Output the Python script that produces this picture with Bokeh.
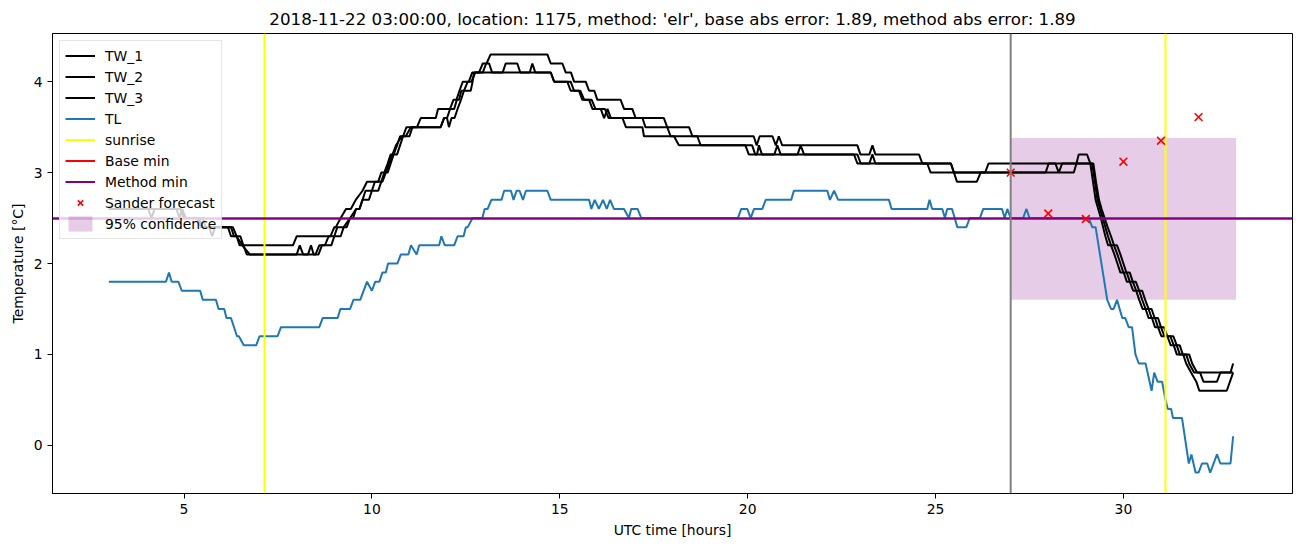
from bokeh.plotting import figure
from bokeh.models import Range1d, Legend, LegendItem, Span, FixedTicker
from bokeh.embed import file_html
from bokeh.resources import INLINE

TITLE = "2018-11-22 03:00:00, location: 1175, method: 'elr', base abs error: 1.89, method abs error: 1.89"

# TL (blue) breakpoints: hours, deg C
TL_t = [3.0, 4.52, 4.6, 4.67, 4.85, 4.94, 5.43, 5.5, 5.85, 5.92, 6.07, 6.13, 6.25, 6.41, 6.46, 6.59, 6.92, 7.01,
        7.49, 7.58, 8.6, 8.69, 9.09, 9.16, 9.42, 9.51, 9.69, 9.87, 10.0, 10.09, 10.2, 10.28, 10.37, 10.43, 10.68,
        10.77, 10.97, 11.04, 11.19, 11.26, 11.79, 11.85, 11.94, 12.19, 12.28, 12.44, 12.5, 12.55, 12.68, 12.94,
        13.0, 13.08, 13.18, 13.45, 13.52, 13.7, 13.77, 13.85, 13.93, 14.02, 14.1, 14.67, 14.76, 15.78, 15.84,
        15.93, 16.04, 16.15, 16.25, 16.34, 16.44, 16.71, 16.84, 16.9, 17.07, 17.17, 19.74, 19.83, 19.99, 20.08,
        20.17, 20.39, 20.48, 21.16, 21.23, 22.12, 22.19, 22.3, 22.41, 23.76, 23.83, 24.78, 24.84, 24.91, 25.18,
        25.25, 25.31, 25.44, 25.58, 25.82, 25.91, 26.18, 26.27, 26.77, 26.84, 26.91, 27.0, 27.33, 27.42, 27.5,
        29.08, 29.17, 29.26, 29.57, 29.67, 29.74, 29.83, 29.97, 30.05, 30.14, 30.23, 30.32, 30.41, 30.59, 30.75,
        30.82, 30.91, 31.03, 31.12, 31.18, 31.27, 31.32, 31.56, 31.74, 31.81, 31.92, 32.0, 32.09, 32.23, 32.31,
        32.49, 32.58, 32.85, 32.92]
TL_v = [1.8, 1.8, 1.9, 1.8, 1.8, 1.7, 1.7, 1.6, 1.6, 1.5, 1.5, 1.4, 1.4, 1.2, 1.2, 1.1, 1.1, 1.2,
        1.2, 1.3, 1.3, 1.4, 1.4, 1.5, 1.5, 1.6, 1.6, 1.8, 1.7, 1.8, 1.8, 1.9, 1.9, 2.0, 2.0,
        2.1, 2.1, 2.2, 2.1, 2.2, 2.2, 2.3, 2.2, 2.2, 2.3, 2.3, 2.4, 2.4, 2.5, 2.5,
        2.6, 2.6, 2.7, 2.7, 2.8, 2.8, 2.7, 2.8, 2.8, 2.7, 2.8, 2.8, 2.7, 2.7, 2.6,
        2.7, 2.6, 2.7, 2.6, 2.7, 2.6, 2.6, 2.5, 2.6, 2.6, 2.5, 2.5, 2.6, 2.6, 2.5,
        2.6, 2.6, 2.7, 2.7, 2.8, 2.8, 2.7, 2.8, 2.7, 2.7, 2.6, 2.6, 2.7, 2.6, 2.6,
        2.5, 2.6, 2.6, 2.4, 2.4, 2.5, 2.5, 2.6, 2.6, 2.5, 2.6, 2.5, 2.5, 2.6, 2.5,
        2.5, 2.4, 2.4, 1.6, 1.5, 1.5, 1.6, 1.4, 1.4, 1.3, 1.3, 1.0, 0.9, 0.9, 0.6,
        0.8, 0.7, 0.7, 0.5, 0.4, 0.4, 0.3, 0.3, -0.2, -0.1, -0.3, -0.3, -0.2, -0.2, -0.3,
        -0.1, -0.2, -0.2, 0.1]

TW1_t = [3.0, 4.05, 4.13, 4.22, 4.9, 5.0, 5.35, 5.45, 6.25, 6.33, 6.4, 6.48, 7.9, 8.0, 8.9, 9.0, 9.04, 9.17,
         9.31, 9.44, 9.57, 9.75, 9.87, 10.28, 10.37, 10.46, 10.55, 10.64, 10.8, 10.9, 11.04, 11.2, 11.3, 11.7,
         11.76, 12.19, 12.26, 12.32, 12.38, 12.63, 12.68, 12.72, 12.85, 12.95, 13.05, 13.16, 14.67, 14.76,
         15.07, 15.16, 15.3, 15.38, 15.69, 15.78, 15.92, 16.0, 16.62, 16.71, 16.93, 17.02, 17.77, 17.86, 18.44,
         18.53, 20.16, 20.24, 20.32, 20.66, 20.75, 20.83, 20.92, 22.92, 23.0, 23.24, 23.32, 23.4, 24.56, 24.65,
         25.41, 25.49, 26.32, 26.41, 29.12, 29.2, 29.27, 29.35, 29.42, 29.5, 29.58, 29.67, 29.75, 29.83, 29.92,
         30.0, 30.08, 30.17, 30.25, 30.33, 30.42, 30.5, 30.58, 30.67, 30.75, 30.83, 30.92, 31.0, 31.08, 31.17,
         31.33, 31.42, 31.5, 31.58, 31.75, 31.83, 31.96, 32.85, 32.92]
TW1_v = [2.6, 2.6, 2.5, 2.6, 2.6, 2.5, 2.5, 2.4, 2.4, 2.3, 2.3, 2.2, 2.2, 2.3, 2.3, 2.4, 2.4, 2.5,
         2.6, 2.6, 2.7, 2.8, 2.9, 2.9, 3.0, 3.1, 3.2, 3.3, 3.4, 3.4, 3.5, 3.5, 3.6, 3.6,
         3.7, 3.7, 3.8, 3.8, 3.9, 3.9, 4.0, 4.1, 4.1, 4.2, 4.2, 4.3, 4.3, 4.2,
         4.2, 4.1, 4.1, 4.0, 4.0, 3.9, 3.9, 3.8, 3.8, 3.7, 3.7, 3.6, 3.6, 3.5, 3.5,
         3.4, 3.4, 3.3, 3.4, 3.4, 3.3, 3.4, 3.3, 3.3, 3.2, 3.2, 3.3, 3.2, 3.2, 3.1,
         3.1, 3.0, 3.0, 3.1, 3.1, 3.1, 2.9, 2.7, 2.6, 2.5, 2.4, 2.3, 2.2, 2.2, 2.1,
         2.0, 1.9, 1.9, 1.8, 1.8, 1.7, 1.7, 1.6, 1.5, 1.5, 1.4, 1.4, 1.3, 1.3, 1.2,
         1.2, 1.1, 1.1, 1.0, 1.0, 0.9, 0.8, 0.8, 0.9]

TW2_t = [3.0, 4.9, 5.0, 5.5, 5.58, 5.67, 5.75, 5.83, 6.17, 6.25, 6.5, 6.58, 6.67, 8.0, 8.08, 8.17, 8.3, 8.38,
         8.45, 8.58, 8.67, 8.92, 9.0, 9.17, 9.25, 9.42, 9.5, 9.58, 9.67, 9.75, 9.83, 10.0, 10.08, 10.17, 10.25,
         10.33, 10.42, 10.5, 10.58, 10.67, 10.75, 10.83, 10.92, 11.83, 11.92, 12.0, 12.05, 12.12, 12.2, 12.28,
         12.37, 12.45, 12.55, 12.65, 12.75, 12.95, 13.04, 13.12, 13.2, 13.48, 13.56, 13.87, 13.95, 14.2, 14.27,
         14.35, 14.76, 14.85, 15.29, 15.38, 15.51, 15.6, 15.78, 15.87, 16.09, 16.18, 16.27, 16.36, 16.67, 16.76,
         17.2, 17.24, 18.04, 18.17, 19.94, 20.03, 22.83, 22.92, 25.41, 25.49, 27.93, 28.01, 28.19, 28.28, 28.37,
         29.17, 29.24, 29.31, 29.38, 29.45, 29.52, 29.59, 29.67, 29.75, 29.84, 29.92, 30.0, 30.09, 30.17, 30.25,
         30.34, 30.42, 30.5, 30.59, 30.67, 30.75, 30.84, 30.92, 31.0, 31.09, 31.25, 31.34, 31.42, 31.5, 31.67,
         31.75, 31.88, 32.04, 32.13, 32.49, 32.58, 32.92]
TW2_v = [2.6, 2.6, 2.5, 2.5, 2.4, 2.4, 2.3, 2.4, 2.4, 2.3, 2.3, 2.2, 2.1, 2.1, 2.2, 2.1, 2.1, 2.2,
         2.1, 2.1, 2.2, 2.2, 2.3, 2.3, 2.4, 2.5, 2.5, 2.6, 2.6, 2.7, 2.8, 2.8, 2.9, 2.9, 3.0,
         3.0, 3.1, 3.2, 3.2, 3.3, 3.4, 3.4, 3.5, 3.5, 3.6, 3.6, 3.5, 3.6, 3.6, 3.7,
         3.8, 3.9, 4.0, 4.0, 4.1, 4.1, 4.2, 4.2, 4.1, 4.1, 4.2, 4.2, 4.1, 4.1, 4.2,
         4.1, 4.1, 4.0, 4.0, 3.9, 3.9, 3.8, 3.8, 3.7, 3.7, 3.6, 3.7, 3.6, 3.6, 3.5,
         3.5, 3.4, 3.4, 3.3, 3.3, 3.2, 3.2, 3.1, 3.1, 3.0, 3.0, 3.1, 3.1, 3.0, 3.1,
         3.1, 2.9, 2.7, 2.6, 2.5, 2.4, 2.3, 2.2, 2.2, 2.1, 2.0, 1.9, 1.9, 1.8, 1.8,
         1.7, 1.7, 1.6, 1.5, 1.5, 1.4, 1.4, 1.3, 1.3, 1.2, 1.2, 1.1, 1.1, 1.0, 1.0,
         0.9, 0.8, 0.8, 0.7, 0.7, 0.8, 0.8]

TW3_t = [3.0, 4.8, 4.88, 4.95, 5.05, 5.4, 5.5, 6.3, 6.4, 6.55, 6.75, 8.5, 8.6, 8.75, 8.85, 9.0, 9.08, 9.17,
         9.33, 9.42, 9.58, 9.67, 9.75, 9.92, 10.0, 10.17, 10.25, 10.33, 10.42, 10.5, 10.58, 10.67, 10.75, 10.83,
         11.0, 11.08, 11.83, 11.92, 12.0, 12.08, 12.17, 12.25, 12.33, 12.42, 12.58, 12.67, 14.76, 14.85, 15.2,
         15.29, 15.55, 15.65, 15.85, 15.95, 16.2, 16.3, 17.2, 17.28, 17.86, 17.95, 18.66, 18.75, 20.12, 20.2,
         20.25, 20.3, 20.38, 20.71, 20.79, 20.88, 21.33, 21.41, 21.5, 22.92, 23.01, 23.24, 23.32, 23.4, 24.78,
         24.87, 25.49, 25.57, 26.1, 26.2, 28.68, 28.75, 28.81, 29.03, 29.12, 29.19, 29.26, 29.33, 29.4, 29.46,
         29.52, 29.59, 29.67, 29.76, 29.84, 29.92, 30.01, 30.09, 30.17, 30.26, 30.34, 30.42, 30.51, 30.59, 30.67,
         30.76, 30.84, 30.92, 31.01, 31.17, 31.26, 31.34, 31.42, 31.59, 31.67, 31.8, 31.94, 32.02, 32.75, 32.92]
TW3_v = [2.6, 2.6, 2.5, 2.6, 2.5, 2.5, 2.4, 2.4, 2.3, 2.2, 2.1, 2.1, 2.2, 2.2, 2.3, 2.3, 2.4, 2.4,
         2.4, 2.5, 2.6, 2.6, 2.7, 2.7, 2.8, 2.8, 2.9, 3.0, 3.0, 3.1, 3.2, 3.2, 3.3, 3.4,
         3.4, 3.5, 3.5, 3.6, 3.6, 3.7, 3.8, 3.8, 3.9, 4.0, 4.0, 4.1, 4.1, 4.0, 4.0,
         3.9, 3.9, 3.8, 3.8, 3.7, 3.7, 3.6, 3.6, 3.5, 3.5, 3.4, 3.4, 3.3, 3.3, 3.2,
         3.2, 3.3, 3.2, 3.2, 3.3, 3.2, 3.2, 3.3, 3.2, 3.2, 3.1, 3.1, 3.2, 3.1, 3.1,
         3.0, 3.0, 2.9, 2.9, 3.0, 3.0, 3.1, 3.2, 3.2, 3.1, 2.9, 2.7, 2.6, 2.5, 2.4,
         2.3, 2.2, 2.2, 2.1, 2.0, 1.9, 1.9, 1.8, 1.8, 1.7, 1.7, 1.6, 1.5, 1.5, 1.4,
         1.4, 1.3, 1.3, 1.2, 1.2, 1.1, 1.1, 1.0, 1.0, 0.9, 0.8, 0.7, 0.6, 0.6, 0.8]

sunrise = [7.15, 31.13]
forecast_start = 27.0
base_min = 2.5
method_min = 2.5
forecast_t = [27, 28, 29, 30, 31, 32]
forecast_v = [3.0, 2.55, 2.49, 3.12, 3.35, 3.61]
conf_left, conf_right = 27.0, 33.0
conf_low, conf_high = 1.6, 3.38

FONT = "DejaVu Sans"

p = figure(width=1302, height=547, output_backend="svg", toolbar_location=None,
           x_range=Range1d(1.5, 34.5), y_range=Range1d(-0.53, 4.53),
           min_border_left=52, min_border_right=10, min_border_top=33, min_border_bottom=54)
p.background_fill_color = "white"
p.border_fill_color = "white"
p.xgrid.visible = False
p.ygrid.visible = False
p.outline_line_color = "black"
p.outline_line_width = 1
p.outline_line_alpha = 1

p.title.text = TITLE
p.title.align = "center"
p.title.text_font = FONT
p.title.text_font_size = "16.7px"
p.title.text_font_style = "normal"
p.title.text_color = "black"

for ax in (p.xaxis[0], p.yaxis[0]):
    ax.major_tick_in = 0
    ax.major_tick_out = 5
    ax.minor_tick_in = 0
    ax.minor_tick_out = 0
    ax.major_label_text_font = FONT
    ax.major_label_text_font_size = "13.9px"
    ax.major_label_text_color = "black"
    ax.axis_label_text_font = FONT
    ax.axis_label_text_font_size = "13.9px"
    ax.axis_label_text_font_style = "normal"
    ax.axis_label_text_color = "black"
    ax.axis_line_color = "black"
    ax.major_tick_line_color = "black"
p.xaxis.ticker = FixedTicker(ticks=[5, 10, 15, 20, 25, 30])
p.yaxis.ticker = FixedTicker(ticks=[0, 1, 2, 3, 4])
p.xaxis.axis_label = "UTC time [hours]"
p.yaxis.axis_label = "Temperature [°C]"

r_conf = p.quad(left=[conf_left], right=[conf_right], bottom=[conf_low], top=[conf_high],
                fill_color="purple", fill_alpha=0.2, line_color=None)
r1 = p.line(TW1_t, TW1_v, line_color="black", line_width=2)
r2 = p.line(TW2_t, TW2_v, line_color="black", line_width=2)
r3 = p.line(TW3_t, TW3_v, line_color="black", line_width=2)
r_tl = p.line(TL_t, TL_v, line_color="#1f77b4", line_width=2)
r_sun = p.vspan(x=sunrise, line_color="yellow", line_width=2)
r_base = p.hspan(y=[base_min], line_color="red", line_width=2)
r_meth = p.hspan(y=[method_min], line_color="purple", line_width=2)
p.add_layout(Span(location=forecast_start, dimension="height", line_color="grey", line_width=2))
r_fc = p.scatter(forecast_t, forecast_v, marker="x", size=11, line_color="red", line_width=1.6)

legend = Legend(items=[
    LegendItem(label="TW_1", renderers=[r1]),
    LegendItem(label="TW_2", renderers=[r2]),
    LegendItem(label="TW_3", renderers=[r3]),
    LegendItem(label="TL", renderers=[r_tl]),
    LegendItem(label="sunrise", renderers=[r_sun]),
    LegendItem(label="Base min", renderers=[r_base]),
    LegendItem(label="Method min", renderers=[r_meth]),
    LegendItem(label="Sander forecast", renderers=[r_fc]),
    LegendItem(label="95% confidence", renderers=[r_conf]),
], location="top_left")
legend.label_text_font = FONT
legend.label_text_font_size = "13.9px"
legend.label_text_color = "black"
legend.glyph_width = 30
legend.glyph_height = 19
legend.label_height = 19
legend.spacing = 2
legend.padding = 5
legend.margin = 7
legend.label_standoff = 10
legend.border_line_color = "#cccccc"
legend.border_line_width = 1
legend.background_fill_color = "white"
legend.background_fill_alpha = 0.8
p.add_layout(legend)

open("out.html", "w").write(file_html(p, INLINE))
